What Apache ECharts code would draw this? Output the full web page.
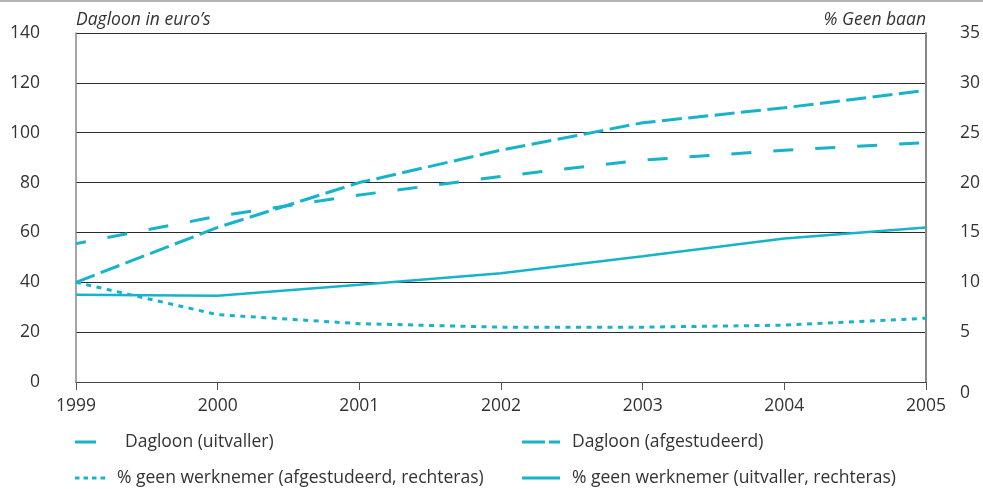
<!DOCTYPE html>
<html>
<head>
<meta charset="utf-8">
<script src="https://cdn.jsdelivr.net/npm/echarts@6/dist/echarts.min.js"></script>
<style>
html, body { margin: 0; padding: 0; background: #fff; }
#chart { width: 983px; height: 489px; }
</style>
</head>
<body>
<div id="chart"></div>
<script>
// data
var years = ['1999', '2000', '2001', '2002', '2003', '2004', '2005'];
var dagloonUitvaller = [40, 62, 80, 93, 104, 110, 117];
var dagloonAfgestudeerd = [55.5, 66.5, 75, 82.5, 89, 93, 96];
var geenAfgestudeerd = [10, 6.75, 5.85, 5.5, 5.5, 5.7, 6.4];
var geenUitvaller = [8.75, 8.65, 9.75, 10.9, 12.6, 14.4, 15.5];

var names = [
  'Dagloon (uitvaller)',
  'Dagloon (afgestudeerd)',
  '% geen werknemer (afgestudeerd, rechteras)',
  '% geen werknemer (uitvaller, rechteras)'
];

var kleur = '#17b3cb';
var font = '"Open Sans", "Noto Sans", sans-serif';

var chart = echarts.init(document.getElementById('chart'));

function legendItem(name, left, top, icon, w, padLeft) {
  return {
    data: [name],
    left: left,
    top: top,
    padding: 0,
    icon: icon,
    itemWidth: w,
    itemHeight: 3,
    selectedMode: false,
    textStyle: {
      fontFamily: font,
      fontSize: 17.5,
      color: '#333',
      padding: [0, 0, 6, padLeft]
    }
  };
}

var option = {
  animation: false,
  backgroundColor: '#fff',
  textStyle: { fontFamily: font },
  grid: { left: 76, right: 57, top: 33, bottom: 107 },
  graphic: [{
    type: 'line',
    shape: { x1: 0, y1: 1, x2: 983, y2: 1 },
    style: { stroke: '#9a9a9a', lineWidth: 1.5 }
  }],
  legend: [
    legendItem(names[0], 75, 433, 'path://M0,0H21V3H0Z', 21, 24),
    legendItem(names[1], 522, 433, 'path://M0,0H23V3H0Z M27,0H38V3H27Z', 38, 7),
    legendItem(names[2], 75, 469, 'path://M0,0H4.5V3H0Z M8.5,0H13V3H8.5Z M17,0H21.5V3H17Z M25.5,0H30V3H25.5Z', 30, 7),
    legendItem(names[3], 522, 469, 'path://M0,0H38V3H0Z', 38, 7)
  ],
  xAxis: {
    type: 'category',
    data: years,
    boundaryGap: false,
    axisLine: { lineStyle: { color: '#444', width: 1 } },
    axisTick: { show: true, length: 8, lineStyle: { color: '#555', width: 1 } },
    axisLabel: { fontSize: 17.5, color: '#333', margin: 15, fontFamily: font }
  },
  yAxis: [{
    type: 'value',
    min: 0, max: 140, interval: 20,
    name: 'Dagloon in euro\u2019s',
    nameLocation: 'end',
    nameGap: 4,
    nameTextStyle: { fontStyle: 'italic', fontSize: 17.5, color: '#333', align: 'left', verticalAlign: 'bottom', fontFamily: font },
    axisLine: { show: true, lineStyle: { color: '#888', width: 1.5 } },
    axisTick: { show: false },
    axisLabel: { fontSize: 17.5, color: '#333', margin: 36, fontFamily: font },
    splitLine: { show: true, lineStyle: { color: '#2b2b2b', width: 1 } }
  }, {
    type: 'value',
    min: 0, max: 35, interval: 5,
    name: '% Geen baan',
    nameLocation: 'end',
    nameGap: 4,
    nameTextStyle: { fontStyle: 'italic', fontSize: 17.5, color: '#333', align: 'right', verticalAlign: 'bottom', fontFamily: font },
    axisLine: { show: true, lineStyle: { color: '#888', width: 2 } },
    axisTick: { show: false },
    axisLabel: {
      fontSize: 17.5, color: '#333', margin: 34, fontFamily: font,
      formatter: function (v) { return v === 0 ? '{z|0}' : String(v); },
      rich: { z: { fontSize: 17.5, color: '#333', padding: [22, 0, 0, 0], fontFamily: font } }
    },
    splitLine: { show: false }
  }],
  series: [{
    name: names[0],
    type: 'line',
    data: dagloonUitvaller,
    yAxisIndex: 0,
    symbol: 'none',
    itemStyle: { color: kleur },
    lineStyle: { color: kleur, width: 3, type: [20, 6.5] }
  }, {
    name: names[1],
    type: 'line',
    data: dagloonAfgestudeerd,
    yAxisIndex: 0,
    symbol: 'none',
    itemStyle: { color: kleur },
    lineStyle: { color: kleur, width: 3, type: [20, 22], dashOffset: 10 }
  }, {
    name: names[2],
    type: 'line',
    data: geenAfgestudeerd,
    yAxisIndex: 1,
    symbol: 'none',
    itemStyle: { color: kleur },
    lineStyle: { color: kleur, width: 3, type: [5, 5.5] }
  }, {
    name: names[3],
    type: 'line',
    data: geenUitvaller,
    yAxisIndex: 1,
    symbol: 'none',
    itemStyle: { color: kleur },
    lineStyle: { color: kleur, width: 2.5, type: 'solid' }
  }]
};

chart.setOption(option);
</script>
</body>
</html>
